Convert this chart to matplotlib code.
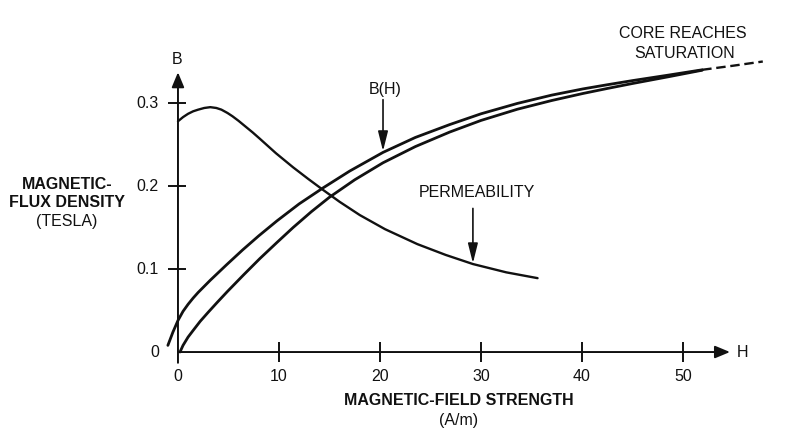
import matplotlib
matplotlib.use("Agg")
import matplotlib.pyplot as plt

plt.rcParams['font.family'] = ['Liberation Sans', 'DejaVu Sans']

# B(H) curves (H in A/m, B in tesla)
h_upper = [-1.0, -0.5, 0, 0.5, 1, 1.5, 2, 3.2, 4.8, 6.4, 8, 9.8, 12, 14.4, 17,
           20.3, 23.5, 26.9, 30, 33.6, 37, 40.1, 42.5, 45, 48.5, 51.9]
b_upper = [0.008, 0.024, 0.038, 0.049, 0.0575, 0.065, 0.0718, 0.0865, 0.105,
           0.123, 0.140, 0.158, 0.1785, 0.198, 0.218, 0.2405, 0.2585, 0.274,
           0.287, 0.2995, 0.3095, 0.317, 0.322, 0.327, 0.3335, 0.340]

h_lower = [0.2, 0.5, 1.0, 1.5, 2.2, 3.0, 3.9, 4.9, 6.5, 8.1, 9.8, 11.4, 13.2, 15,
           17.5, 20.3, 23.5, 26.9, 30, 33.6, 37, 40.1, 42.5, 45, 48.5, 51.9]
b_lower = [0.0, 0.008, 0.018, 0.026, 0.037, 0.048, 0.060, 0.073, 0.093, 0.1125,
           0.132, 0.150, 0.169, 0.1865, 0.2075, 0.228, 0.2475, 0.265, 0.279,
           0.2925, 0.303, 0.3115, 0.3175, 0.3235, 0.3315, 0.3395]

# saturation part (dashed)
h_sat = [51.9, 55, 57.9]
b_sat = [0.340, 0.345, 0.350]

# permeability curve (drawn on the same scale)
h_perm = [0, 0.5, 1, 1.5, 2, 2.6, 3.2, 3.8, 4.3, 4.9, 5.4, 6.0, 6.7, 7.4, 8.1,
          9.7, 11.4, 12.9, 14.4, 16, 18, 20.5, 23.7, 26.5, 29.2, 32.5, 35.6]
b_perm = [0.278, 0.283, 0.287, 0.290, 0.292, 0.294, 0.295, 0.294, 0.292, 0.288,
          0.284, 0.2785, 0.2715, 0.2645, 0.257, 0.2395, 0.2225, 0.2085, 0.195,
          0.181, 0.165, 0.148, 0.130, 0.117, 0.106, 0.096, 0.089]

x_ticks = [0, 10, 20, 30, 40, 50]
y_ticks = [0, 0.1, 0.2, 0.3]
y_labels = ['0', '0.1', '0.2', '0.3']

fig = plt.figure(figsize=(7.93, 4.42), dpi=100)
ax = fig.add_axes([0, 0, 1, 1])
ax.set_xlim(-17.62, 60.89)
ax.set_ylim(-0.1084, 0.4241)
ax.axis('off')

ink = '#111111'
fs = 11.5

# axes with arrows
ax.annotate('', xy=(0, 0.337), xytext=(0, -0.013),
            arrowprops=dict(arrowstyle='-|>,head_length=0.6,head_width=0.25',
                            lw=1.4, color=ink, shrinkA=0, shrinkB=0,
                            mutation_scale=15))
ax.annotate('', xy=(54.65, 0), xytext=(0, 0),
            arrowprops=dict(arrowstyle='-|>,head_length=0.6,head_width=0.25',
                            lw=1.4, color=ink, shrinkA=0, shrinkB=0,
                            mutation_scale=15))

# cross ticks
ax.hlines(y_ticks[1:], -0.99, 0.79, color=ink, lw=1.4)
ax.vlines(x_ticks[1:], -0.012, 0.012, color=ink, lw=1.4)

for v, lab in zip(y_ticks, y_labels):
    ax.text(-1.9, v, lab, ha='right', va='center', fontsize=fs, color=ink)
for v in x_ticks:
    ax.text(v, -0.030, str(v), ha='center', va='center', fontsize=fs, color=ink)

ax.text(-0.1, 0.352, 'B', ha='center', va='center', fontsize=fs, color=ink)
ax.text(55.9, 0.0, 'H', ha='center', va='center', fontsize=fs, color=ink)

# curves
line_kw = dict(color=ink, solid_capstyle='round', solid_joinstyle='round')
ax.plot(h_upper, b_upper, lw=2.0, **line_kw)
ax.plot(h_lower, b_lower, lw=2.0, **line_kw)
ax.plot(h_sat, b_sat, color=ink, lw=1.7, linestyle=(0, (4, 2)))
ax.plot(h_perm, b_perm, lw=1.7, **line_kw)

# axis titles
ax.text(-10.99, 0.202, 'MAGNETIC-', ha='center', va='center', fontsize=fs,
        fontweight='bold', color=ink)
ax.text(-10.99, 0.180, 'FLUX DENSITY', ha='center', va='center', fontsize=fs,
        fontweight='bold', color=ink)
ax.text(-10.99, 0.157, '(TESLA)', ha='center', va='center', fontsize=fs, color=ink)
ax.text(27.8, -0.058, 'MAGNETIC-FIELD STRENGTH', ha='center', va='center',
        fontsize=fs, fontweight='bold', color=ink)
ax.text(27.8, -0.082, '(A/m)', ha='center', va='center', fontsize=fs, color=ink)

# callouts
arrow_kw = dict(arrowstyle='-|>,head_length=0.8,head_width=0.2', lw=1.2,
                color=ink, shrinkA=0, shrinkB=0, mutation_scale=15)
ax.text(20.5, 0.316, 'B(H)', ha='center', va='center', fontsize=fs, color=ink)
ax.annotate('', xy=(20.3, 0.242), xytext=(20.3, 0.304), arrowprops=arrow_kw)
ax.text(29.6, 0.192, 'PERMEABILITY', ha='center', va='center', fontsize=fs, color=ink)
ax.annotate('', xy=(29.2, 0.107), xytext=(29.2, 0.173), arrowprops=arrow_kw)
ax.text(50.0, 0.384, 'CORE REACHES', ha='center', va='center', fontsize=fs, color=ink)
ax.text(50.2, 0.360, 'SATURATION', ha='center', va='center', fontsize=fs, color=ink)

fig.savefig('out.png', dpi=100)
